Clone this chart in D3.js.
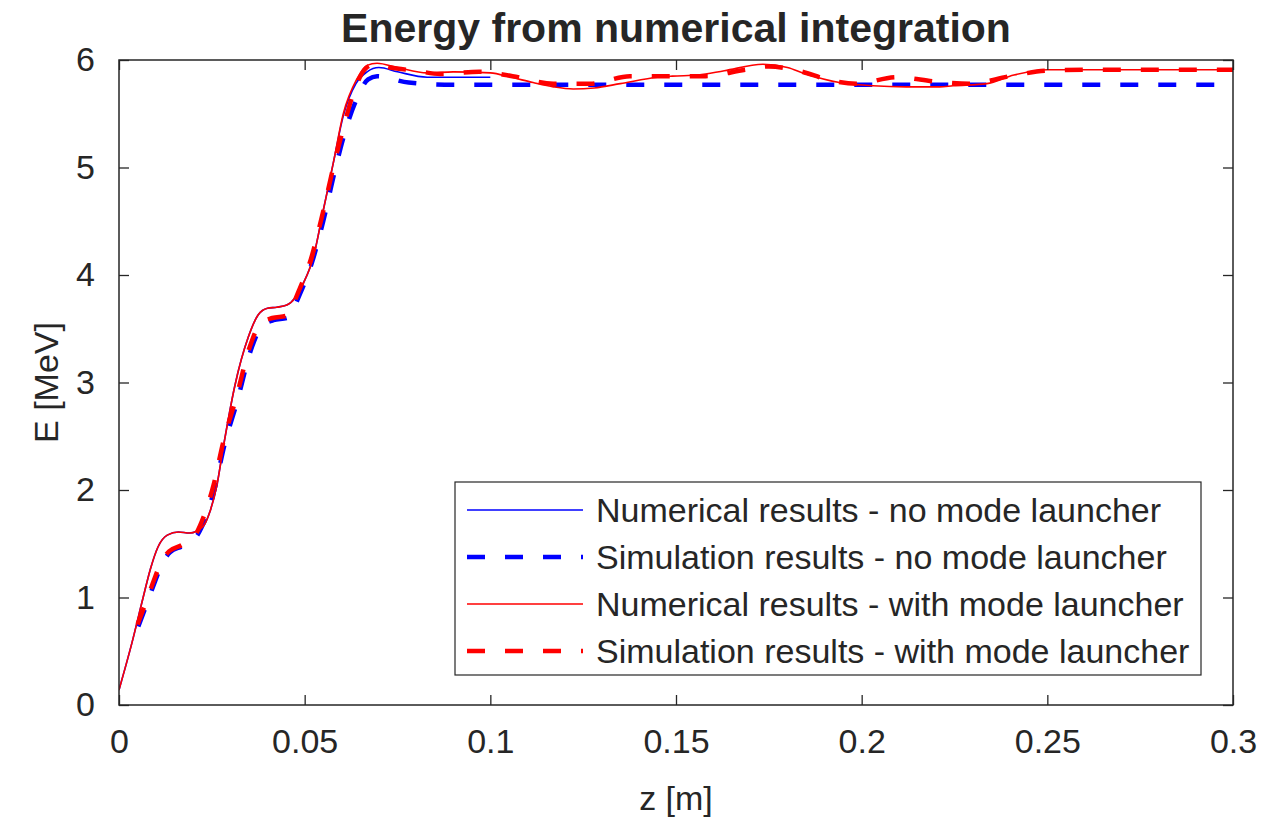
<!DOCTYPE html>
<html>
<head>
<meta charset="utf-8">
<script src="https://cdn.jsdelivr.net/npm/d3@7"></script>
<style>
  body { margin: 0; background: #fff; }
  text { font-family: "Liberation Sans", Arial, sans-serif; fill: #262626; }
</style>
</head>
<body>
<div id="chart"></div>
<script>
// values
var xTicks = [0, 0.05, 0.1, 0.15, 0.2, 0.25, 0.3];
var yTicks = [0, 1, 2, 3, 4, 5, 6];

var numNoZ = [0, 0.0035, 0.0065, 0.0085, 0.0105, 0.013, 0.016, 0.019, 0.0226, 0.0245, 0.0264, 0.028, 0.0312, 0.0348, 0.0375, 0.040, 0.0425, 0.0452, 0.0475, 0.0496, 0.0523, 0.055, 0.0577, 0.0604, 0.0638, 0.0668, 0.070, 0.075, 0.083, 0.09, 0.1];
var numNoE = [0.14, 0.58, 1.0, 1.27, 1.47, 1.58, 1.61, 1.6, 1.66, 1.8, 2.05, 2.38, 2.97, 3.42, 3.63, 3.69, 3.70, 3.72, 3.79, 3.92, 4.16, 4.6, 5.04, 5.48, 5.78, 5.89, 5.93, 5.89, 5.84, 5.84, 5.84];

var simNoZ = [0.0052, 0.0077, 0.0097, 0.0117, 0.0137, 0.0172, 0.0207, 0.0233, 0.0258, 0.0284, 0.0318, 0.0355, 0.0384, 0.0416, 0.0453, 0.0488, 0.052, 0.055, 0.058, 0.0606, 0.0638, 0.0671, 0.0695, 0.078, 0.09, 0.3];
var simNoE = [0.73, 0.96, 1.15, 1.32, 1.42, 1.48, 1.56, 1.74, 2.02, 2.42, 2.82, 3.30, 3.52, 3.58, 3.60, 3.83, 4.12, 4.5, 4.95, 5.3, 5.62, 5.82, 5.85, 5.79, 5.77, 5.77];

var numMlZ = [0, 0.0035, 0.0065, 0.0085, 0.0105, 0.013, 0.016, 0.019, 0.0226, 0.0245, 0.0264, 0.028, 0.0312, 0.0348, 0.0375, 0.040, 0.0425, 0.0452, 0.0475, 0.0496, 0.0523, 0.055, 0.0577, 0.0604, 0.064, 0.0668, 0.0695, 0.075, 0.083, 0.09, 0.1, 0.1055, 0.1115, 0.117, 0.1223, 0.128, 0.135, 0.145, 0.149, 0.156, 0.163, 0.1734, 0.18, 0.185, 0.194, 0.203, 0.212, 0.221, 0.2246, 0.2337, 0.241, 0.25, 0.26, 0.28, 0.3];
var numMlE = [0.14, 0.58, 1.0, 1.27, 1.47, 1.58, 1.61, 1.6, 1.66, 1.8, 2.05, 2.38, 2.97, 3.42, 3.63, 3.69, 3.70, 3.72, 3.79, 3.92, 4.16, 4.6, 5.04, 5.5, 5.82, 5.95, 5.97, 5.93, 5.88, 5.89, 5.88, 5.84, 5.79, 5.75, 5.73, 5.74, 5.78, 5.84, 5.85, 5.86, 5.9, 5.96, 5.93, 5.87, 5.79, 5.76, 5.75, 5.75, 5.76, 5.78, 5.86, 5.91, 5.91, 5.91, 5.91];

var simMlZ = [0.005, 0.0075, 0.0095, 0.0115, 0.0135, 0.017, 0.0205, 0.023, 0.0255, 0.0281, 0.0315, 0.0352, 0.0381, 0.0413, 0.045, 0.0485, 0.0517, 0.0547, 0.0577, 0.0603, 0.0634, 0.0667, 0.069, 0.073, 0.08, 0.0865, 0.097, 0.106, 0.117, 0.127, 0.1376, 0.1457, 0.158, 0.1686, 0.175, 0.183, 0.1917, 0.1985, 0.2095, 0.2198, 0.229, 0.240, 0.2496, 0.26, 0.3];
var simMlE = [0.75, 0.98, 1.17, 1.34, 1.43, 1.49, 1.58, 1.77, 2.05, 2.45, 2.85, 3.33, 3.55, 3.60, 3.62, 3.86, 4.15, 4.55, 5.0, 5.35, 5.72, 5.93, 5.96, 5.93, 5.9, 5.87, 5.89, 5.85, 5.78, 5.78, 5.85, 5.85, 5.85, 5.91, 5.94, 5.9, 5.81, 5.78, 5.84, 5.80, 5.78, 5.85, 5.90, 5.91, 5.91];

var legendLabels = [
  "Numerical results - no mode launcher",
  "Simulation results - no mode launcher",
  "Numerical results - with mode launcher",
  "Simulation results - with mode launcher"
];

var series = [
  { z: numNoZ, e: numNoE, color: "#0000ff", width: 1.6, dash: null },
  { z: simNoZ, e: simNoE, color: "#0000ff", width: 4.5, dash: "18,20" },
  { z: numMlZ, e: numMlE, color: "#ff0000", width: 1.6, dash: null },
  { z: simMlZ, e: simMlE, color: "#ff0000", width: 4.5, dash: "18,20" }
];

var W = 1279, H = 824;
var margin = { top: 60, right: 46, bottom: 119, left: 119 },
  width = W - margin.left - margin.right,
  height = H - margin.top - margin.bottom;

var svg = d3.select("#chart").append("svg")
  .attr("width", W)
  .attr("height", H);

var g = svg.append("g")
  .attr("transform", "translate(" + margin.left + "," + margin.top + ")");

var x = d3.scaleLinear().domain([0, 0.3]).range([0, width]);
var y = d3.scaleLinear().domain([0, 6]).range([height, 0]);

g.append("clipPath").attr("id", "clip")
  .append("rect").attr("width", width).attr("height", height);

var line = d3.line()
  .x(function (d) { return x(d[0]); })
  .y(function (d) { return y(d[1]); })
  .curve(d3.curveMonotoneX);

var lines = g.append("g").attr("clip-path", "url(#clip)");
series.forEach(function (s) {
  var pts = s.z.map(function (z, i) { return [z, s.e[i]]; });
  lines.append("path")
    .attr("d", line(pts))
    .attr("fill", "none")
    .attr("stroke", s.color)
    .attr("stroke-width", s.width)
    .attr("stroke-dasharray", s.dash);
});

// axes with inward ticks on all four sides
var tl = 10;
var axisCol = "#262626";
var fmt = function (d) { return d3.format("~g")(d); };
g.append("g").attr("transform", "translate(0," + height + ")")
  .call(d3.axisBottom(x).tickValues(xTicks).tickSizeInner(-tl).tickSizeOuter(0).tickPadding(24).tickFormat(fmt));
g.append("g")
  .call(d3.axisTop(x).tickValues(xTicks).tickSizeInner(-tl).tickSizeOuter(0).tickFormat(""));
g.append("g")
  .call(d3.axisLeft(y).tickValues(yTicks).tickSizeInner(-tl).tickSizeOuter(0).tickPadding(24).tickFormat(fmt));
g.append("g").attr("transform", "translate(" + width + ",0)")
  .call(d3.axisRight(y).tickValues(yTicks).tickSizeInner(-tl).tickSizeOuter(0).tickFormat(""));

g.selectAll(".domain").remove();
g.selectAll(".tick line").attr("stroke", axisCol).attr("stroke-width", 1.3);
g.selectAll(".tick text").style("font-size", "34px").attr("fill", axisCol);

g.append("rect")
  .attr("width", width).attr("height", height)
  .attr("fill", "none").attr("stroke", axisCol).attr("stroke-width", 1.5);

// title and axis labels
svg.append("text")
  .attr("x", margin.left + width / 2).attr("y", 42)
  .attr("text-anchor", "middle")
  .style("font-size", "41px").style("font-weight", "bold")
  .attr("fill", "#000")
  .text("Energy from numerical integration");

svg.append("text")
  .attr("x", margin.left + width / 2).attr("y", 810)
  .attr("text-anchor", "middle")
  .style("font-size", "34px")
  .text("z [m]");

svg.append("text")
  .attr("transform", "translate(58," + (margin.top + height / 2) + ") rotate(-90)")
  .attr("text-anchor", "middle")
  .style("font-size", "34px")
  .text("E [MeV]");

// legend
var leg = svg.append("g").attr("transform", "translate(455,482)");
leg.append("rect")
  .attr("width", 746).attr("height", 193)
  .attr("fill", "#fff").attr("stroke", axisCol).attr("stroke-width", 1.2);

legendLabels.forEach(function (lab, i) {
  var cy = 28 + i * 47;
  var s = series[i];
  leg.append("line")
    .attr("x1", 12).attr("x2", 128).attr("y1", cy).attr("y2", cy)
    .attr("stroke", s.color).attr("stroke-width", s.width)
    .attr("stroke-dasharray", s.dash);
  leg.append("text")
    .attr("x", 141).attr("y", cy)
    .attr("dy", "0.35em")
    .style("font-size", "34px")
    .text(lab);
});
</script>
</body>
</html>
